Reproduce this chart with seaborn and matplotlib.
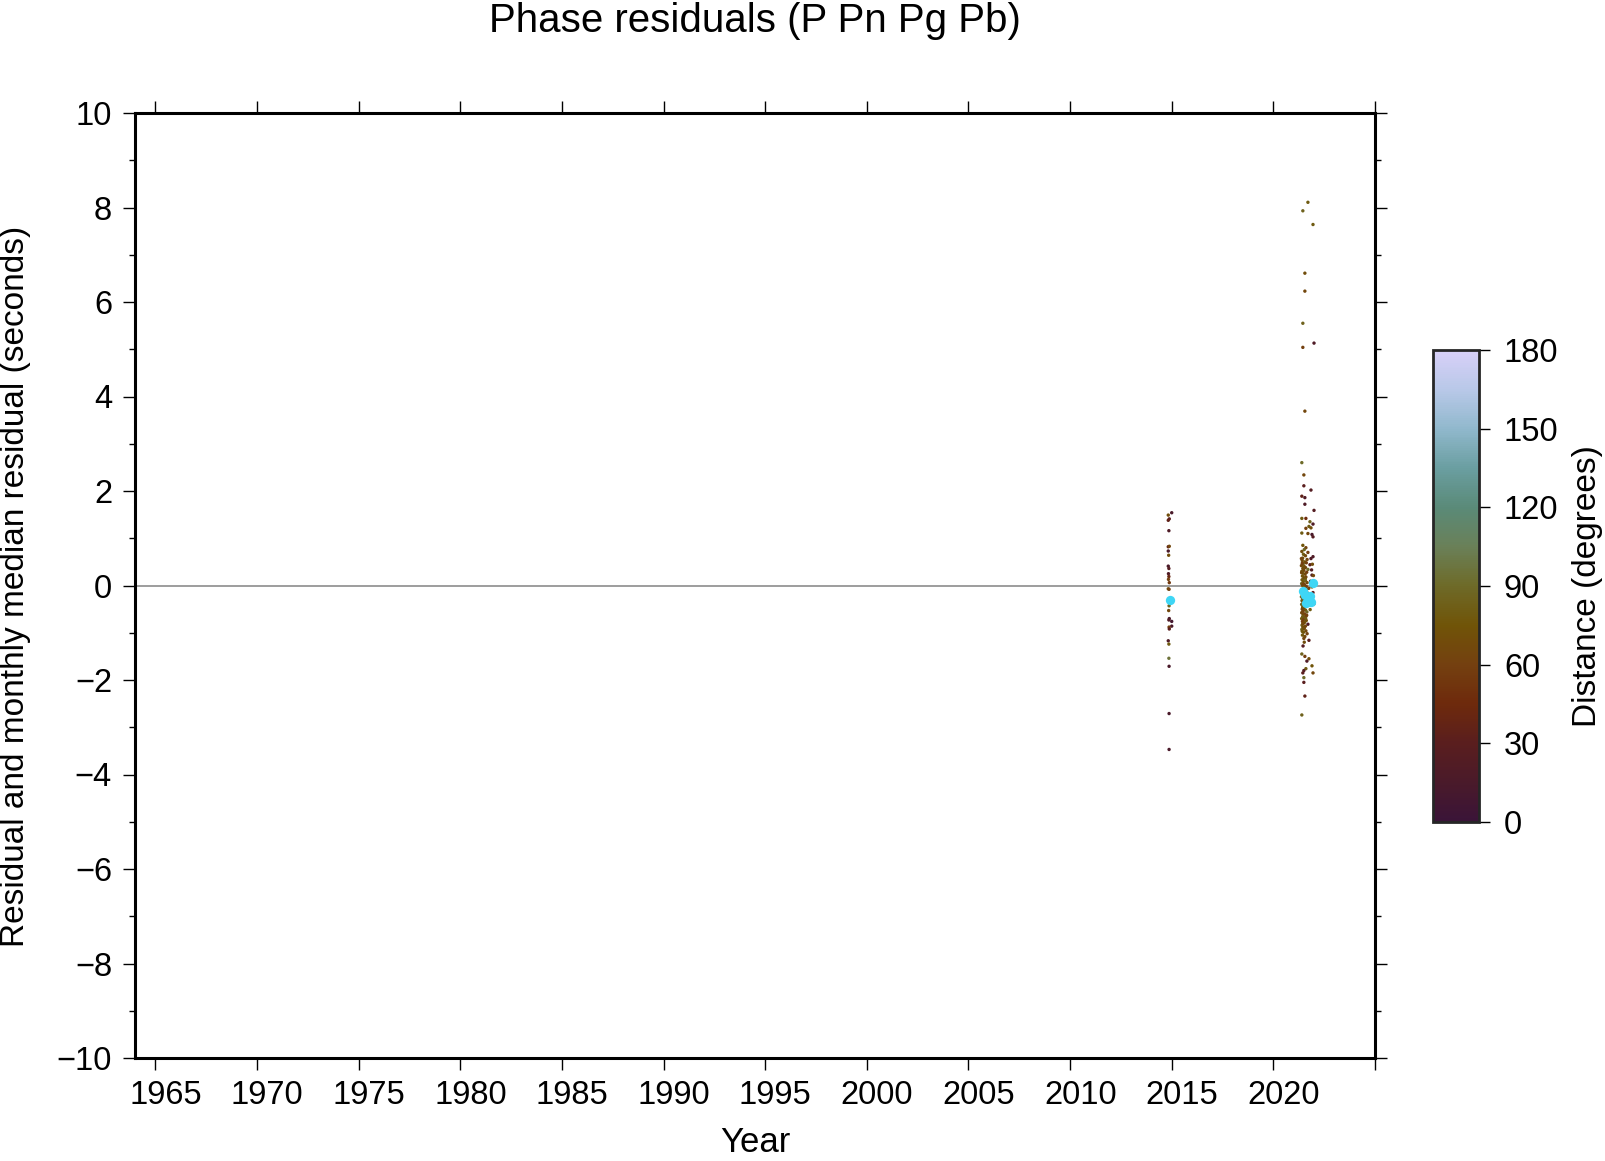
import numpy as np
import pandas as pd
import seaborn as sns
import matplotlib.pyplot as plt
from matplotlib.colors import LinearSegmentedColormap, Normalize
from matplotlib.cm import ScalarMappable
from matplotlib.ticker import MultipleLocator

# ---- data ----
# cluster around late 2014
yr_2014 = [2015.00, 2014.83, 2014.88, 2014.83, 2014.86, 2014.83, 2014.88, 2014.83, 2014.85, 2014.83,
           2014.86, 2014.84, 2014.86, 2014.84, 2014.88, 2014.83, 2014.87, 2014.87, 2014.85, 2014.88,
           2015.00, 2014.86, 2015.00, 2014.87, 2014.88, 2014.83, 2014.86, 2014.86, 2014.87, 2014.87,
           2014.87]
res_2014 = [1.54, 1.49, 1.41, 1.38, 1.16, 0.82, 0.83, 0.73, 0.64, 0.41,
            0.36, 0.25, 0.19, 0.13, 0.06, -0.07, -0.08, -0.43, -0.53, -0.70,
            -0.76, -0.73, -0.86, -0.88, -0.92, -1.17, -1.24, -1.54, -1.71, -2.71,
            -3.47]
dist_2014 = [15, 70, 30, 35, 20, 35, 65, 15, 70, 15,
             25, 20, 40, 60, 55, 70, 60, 85, 65, 15,
             10, 20, 15, 60, 30, 20, 80, 95, 15, 15,
             15]

# cluster in 2021
yr_2021 = [2021.70, 2021.45, 2021.95, 2021.55, 2021.55, 2021.45, 2022.00, 2021.45, 2021.55, 2021.40,
           2021.50, 2021.50, 2021.85, 2021.40, 2021.55, 2021.55, 2022.00, 2021.40, 2021.60, 2021.80,
           2021.95, 2021.75, 2021.60, 2021.85, 2021.40, 2021.70, 2021.90, 2021.95,
           2021.45, 2021.60, 2021.52, 2021.40, 2021.70, 2021.48, 2021.58, 2021.95, 2021.44, 2021.66,
           2021.42, 2021.55, 2021.62, 2021.47, 2021.80, 2021.38, 2021.52, 2021.58, 2021.45, 2021.70,
           2021.50, 2021.40, 2021.64, 2021.46, 2021.56, 2021.90, 2021.43, 2021.60, 2021.52, 2021.48,
           2021.41, 2021.58, 2021.47, 2021.66, 2021.39, 2021.53, 2021.44, 2021.62, 2021.50, 2021.74,
           2021.46, 2021.40, 2021.57, 2021.49, 2021.68, 2021.43, 2021.54, 2021.60, 2021.38, 2021.51,
           2021.45, 2021.63, 2021.41, 2021.55, 2021.48, 2021.72, 2021.39, 2021.52, 2021.60, 2021.44,
           2021.50, 2021.42, 2021.58, 2021.46, 2021.65, 2021.40, 2021.53, 2021.47, 2021.61, 2021.44,
           2021.56, 2021.39, 2021.49, 2021.62, 2021.43, 2021.54, 2021.47, 2021.70, 2021.41, 2021.58,
           2021.45, 2021.52, 2021.40, 2021.60, 2021.48, 2021.66, 2021.43, 2021.55, 2021.50, 2021.75,
           2021.42, 2021.51, 2021.39, 2021.57, 2021.46, 2021.63, 2021.44, 2021.53, 2021.48, 2021.41,
           2021.59, 2021.45, 2021.50, 2021.38, 2021.56, 2021.47, 2021.64, 2021.42, 2021.52, 2021.46,
           2021.85, 2021.92, 2021.88, 2021.97, 2021.83, 2021.90, 2021.95, 2021.86, 2021.99, 2021.81,
           2021.40, 2021.55, 2021.75, 2021.65, 2021.90, 2021.60, 2021.50, 2021.95, 2021.45, 2021.50,
           2021.50, 2021.55, 2021.40]
res_2021 = [8.11, 7.93, 7.64, 6.61, 6.23, 5.55, 5.13, 5.04, 3.69, 2.60,
            2.34, 2.11, 2.02, 1.89, 1.86, 1.72, 1.59, 1.42, 1.42, 1.35,
            1.30, 1.25, 1.21, 1.22, 1.11, 1.10, 1.08, 1.03,
            0.85, 0.80, 0.76, 0.72, 0.70, 0.66, 0.63, 0.61, 0.58, 0.55,
            0.53, 0.50, 0.48, 0.46, 0.44, 0.42, 0.40, 0.38, 0.36, 0.34,
            0.32, 0.30, 0.28, 0.26, 0.24, 0.22, 0.20, 0.18, 0.16, 0.14,
            0.12, 0.10, 0.08, 0.06, 0.04, 0.02, 0.00, -0.02, -0.04, -0.06,
            -0.08, -0.10, -0.12, -0.14, -0.16, -0.18, -0.20, -0.22, -0.24, -0.26,
            -0.28, -0.30, -0.32, -0.34, -0.36, -0.38, -0.40, -0.42, -0.44, -0.46,
            -0.48, -0.50, -0.52, -0.54, -0.56, -0.58, -0.60, -0.62, -0.64, -0.66,
            -0.68, -0.70, -0.72, -0.74, -0.76, -0.78, -0.80, -0.82, -0.84, -0.86,
            -0.88, -0.90, -0.93, -0.96, -0.99, -1.02, -1.05, -1.08, -1.12, -1.16,
            0.47, 0.39, 0.27, 0.15, 0.03, -0.09, -0.21, -0.33, -0.45, -0.57,
            -0.69, -0.81, -0.91, 0.57, 0.11, -0.35, -0.63, -0.97, -1.20, -1.28,
            0.57, 0.45, 0.33, 0.21, 0.09, -0.03, -0.15, -0.27, -0.39, -0.51,
            -1.45, -1.50, -1.55, -1.60, -1.70, -1.76, -1.80, -1.85, -1.85, -1.95,
            -2.05, -2.34, -2.74]
dist_2021 = [80, 85, 80, 70, 65, 85, 20, 60, 65, 90,
             65, 30, 25, 35, 20, 20, 25, 80, 45, 85,
             20, 80, 60, 70, 80, 65, 15, 25,
             75, 62, 88, 70, 58, 80, 66, 20, 72, 64,
             68, 74, 60, 85, 30, 66, 78, 62, 70, 90,
             64, 72, 58, 82, 68, 25, 76, 62, 70, 66,
             80, 60, 74, 68, 86, 64, 70, 58, 78, 62,
             66, 84, 62, 72, 58, 76, 68, 64, 90, 70,
             62, 74, 80, 60, 68, 66, 86, 72, 58, 76,
             70, 64, 78, 62, 88, 72, 60, 68, 74, 82,
             66, 80, 62, 70, 58, 76, 64, 20, 84, 68,
             72, 60, 86, 66, 74, 62, 78, 68, 64, 30,
             60, 70, 66, 74, 62, 78, 68, 58, 72, 64,
             80, 66, 70, 62, 84, 68, 60, 76, 70, 25,
             20, 70, 25, 65, 15, 75, 30, 70, 20, 80,
             85, 60, 70, 20, 75, 80, 25, 65, 30, 90,
             30, 35, 85]

# monthly medians
med_year = [2014.92, 2021.48, 2021.55, 2021.62, 2021.70, 2021.78, 2021.86, 2021.95]
med_res = [-0.31, -0.12, -0.20, -0.36, -0.32, -0.22, -0.34, 0.05]

title = "Phase residuals (P Pn Pg Pb)"
year_ticks = [1965, 1970, 1975, 1980, 1985, 1990, 1995, 2000, 2005, 2010, 2015, 2020, 2025]
year_labels = [1965, 1970, 1975, 1980, 1985, 1990, 1995, 2000, 2005, 2010, 2015, 2020]

df = pd.DataFrame({"year": yr_2014 + yr_2021,
                   "residual": res_2014 + res_2021,
                   "distance": dist_2014 + dist_2021})
med = pd.DataFrame({"year": med_year, "residual": med_res})

# colour scale sampled from the colour bar (0 -> 180 degrees)
cmap = LinearSegmentedColormap.from_list("dist", [
    "#3a1438", "#4a1a2a", "#5a1e1e", "#6e2a0c", "#744010", "#705408",
    "#6e6a28", "#6a8058", "#5a8a78", "#6a9ea0", "#90b8cc", "#b8c8e8", "#d8d0f8"])

sns.set_style("ticks")
plt.rcParams["font.family"] = ["Liberation Sans", "DejaVu Sans"]
for k in ["text.color", "axes.labelcolor", "xtick.color", "ytick.color"]:
    plt.rcParams[k] = "black"

fig = plt.figure(figsize=(16.06, 11.61), dpi=100)
ax = fig.add_axes([135 / 1606, 103 / 1161, 1240 / 1606, 945 / 1161])

ax.axhline(0, color="#8c8c8c", lw=1.2, zorder=1)
sns.scatterplot(data=df, x="year", y="residual", hue="distance", palette=cmap,
                hue_norm=(0, 180), s=6, linewidth=0, legend=False, ax=ax, zorder=2)
sns.scatterplot(data=med, x="year", y="residual", color="#3fd6f5", s=45,
                linewidth=0, legend=False, ax=ax, zorder=3)

ax.set_xlim(1964, 2025)
ax.set_ylim(-10, 10)
# ticks at the year, annotation centred half a year to the right
ax.set_xticks(year_ticks)
ax.set_xticklabels([])
ax.set_xticks([y + 0.5 for y in year_labels], minor=True)
ax.set_xticklabels([str(y) for y in year_labels], minor=True)
ax.yaxis.set_major_locator(MultipleLocator(2))
ax.yaxis.set_minor_locator(MultipleLocator(1))
ax.set_yticks(range(-10, 11, 2))
ax.set_yticklabels([f"{v}".replace("-", "\u2212") for v in range(-10, 11, 2)])
ax.tick_params(which="major", direction="out", length=8.5, width=1, labelsize=23.5,
               pad=8, top=True, right=True, color="black")
ax.tick_params(axis="y", which="minor", direction="out", length=4.3, width=1,
               left=True, right=True)
ax.tick_params(axis="x", which="minor", length=0, labelsize=23.5, pad=15.5,
               top=False, bottom=True)
for sp in ax.spines.values():
    sp.set_linewidth(2.2)
    sp.set_color("black")
ax.set_xlabel("")
ax.set_ylabel("")

fig.text(755 / 1606, 1 - 32 / 1161, title, ha="center", va="baseline", fontsize=29)
fig.text(755 / 1606, 1 - 1152 / 1161, "Year", ha="center", va="baseline", fontsize=25)
fig.text(16 / 1606, 1 - 586 / 1161, "Residual and monthly median residual (seconds)",
         ha="center", va="center", rotation=90, fontsize=24)

# colour bar
cax = fig.add_axes([1433 / 1606, 1 - 822 / 1161, 46 / 1606, 472 / 1161])
sm = ScalarMappable(norm=Normalize(0, 180), cmap=cmap)
cb = fig.colorbar(sm, cax=cax, ticks=range(0, 181, 30))
cb.outline.set_linewidth(2)
cax.tick_params(direction="out", length=8, width=1, labelsize=23.5, pad=10)
fig.text(1588 / 1606, 1 - 586 / 1161, "Distance (degrees)", ha="center", va="center",
         rotation=90, fontsize=24)

fig.savefig("out.png", dpi=100)
